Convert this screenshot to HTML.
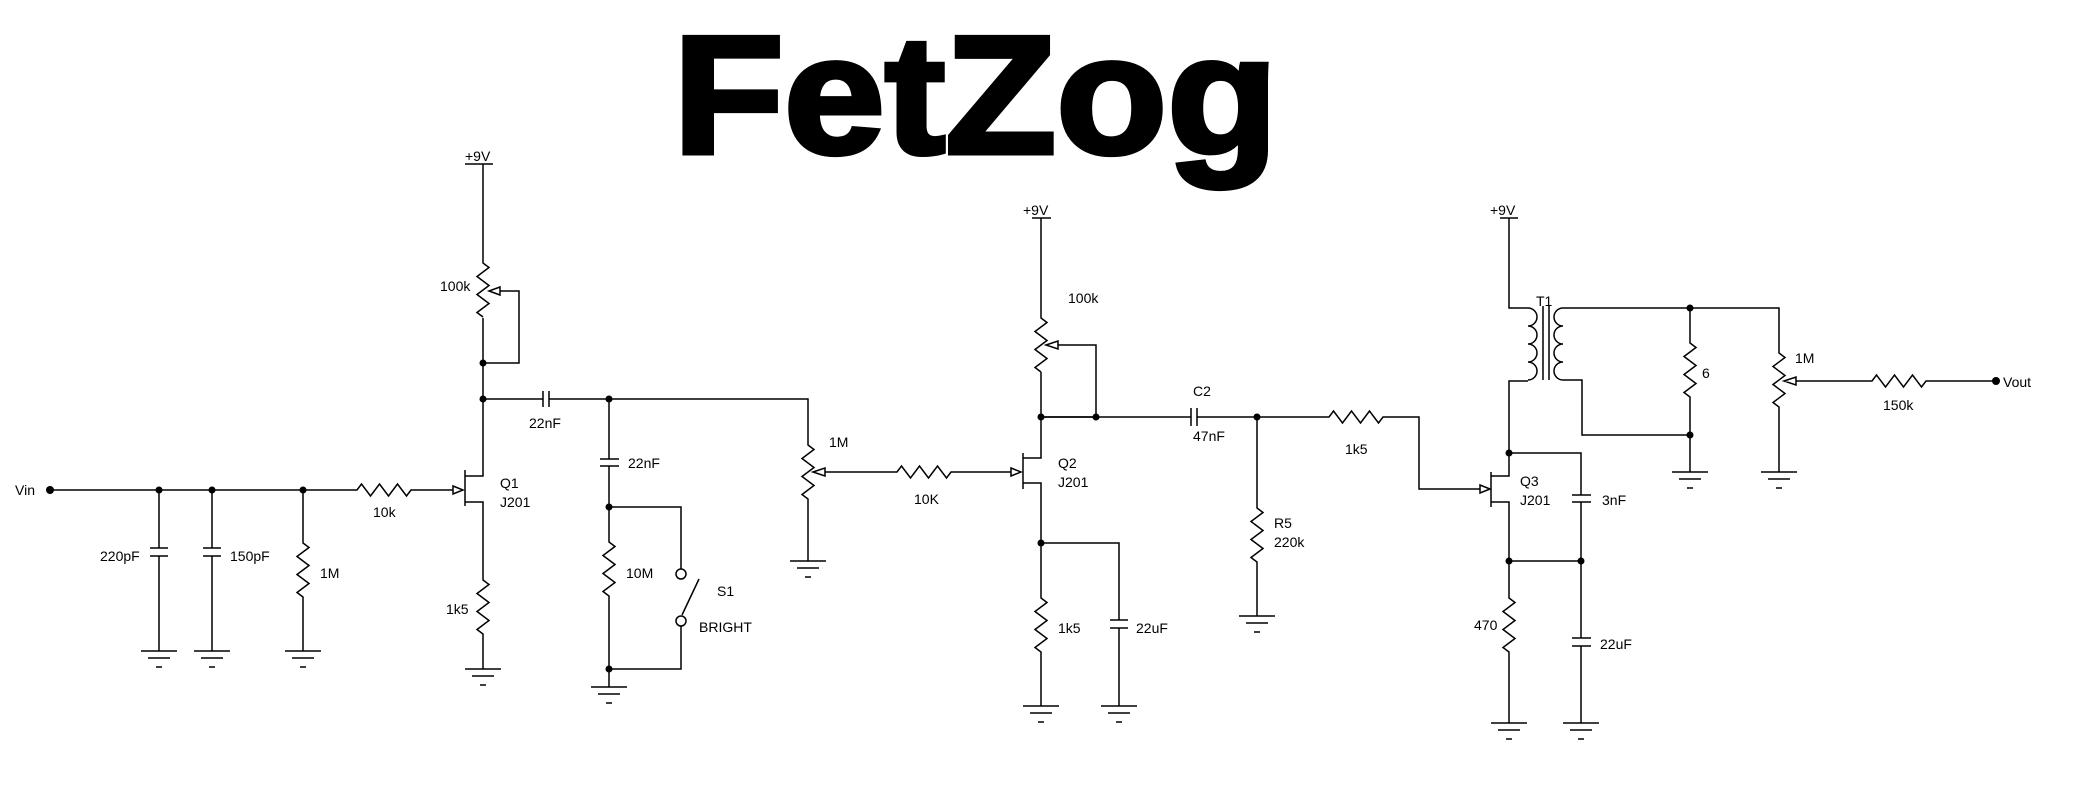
<!DOCTYPE html>
<html><head><meta charset="utf-8"><style>
html,body{margin:0;padding:0;background:#fff;}
svg{display:block;}
text{font-family:"Liberation Sans",sans-serif;font-size:14px;fill:#000;}
</style></head><body>
<svg width="2079" height="789" viewBox="0 0 2079 789" xmlns="http://www.w3.org/2000/svg">
<rect width="2079" height="789" fill="#fff"/>
<text x="673" y="153" style="font-size:168px;font-weight:bold;stroke:#000;stroke-width:5" textLength="605" lengthAdjust="spacingAndGlyphs">FetZog</text>
<g fill="none" stroke="#000" stroke-width="1.5">
<!-- input -->
<path d="M50 490 H357 l4.5 -6 l9 12 l9 -12 l9 12 l9 -12 l9 12 l4.5 -6 H453"/>
<path d="M159 490 V548 M150 548 H168 M150 556 H168 M159 556 V651"/>
<path d="M212 490 V548 M203 548 H221 M203 556 H221 M212 556 V651"/>
<path d="M303 490 V543 l6 4.5 l-12 9 l12 9 l-12 9 l12 9 l-12 9 l6 4.5 V651"/>
<!-- Q1 -->
<path d="M453 486 L463 490 L453 494 Z"/>
<path d="M465 470 V506 M465 476 H483 V318 M483 164 V263 l6 4.5 l-12 9 l12 9 l-12 9 l12 9 l-12 9 l6 4.5"/>
<path d="M489 291 L500 287 L500 295 Z M500 291 H519 V363 H483"/>
<path d="M465 502 H483 V580 l6 4.5 l-12 9 l12 9 l-12 9 l12 9 l-12 9 l6 4.5 V669"/>
<path d="M465 164 H493"/>
<!-- coupling -->
<path d="M483 399 H543 M543 391 V407 M549 391 V407 M549 399 H808 V445 l6 4.5 l-12 9 l12 9 l-12 9 l12 9 l-12 9 l6 4.5 V561"/>
<path d="M813 472 L825 468 L825 476 Z M825 472 H897 l4.5 -6 l9 12 l9 -12 l9 12 l9 -12 l9 12 l4.5 -6 H1011"/>
<path d="M1011 468 L1021 472 L1011 476 Z"/>
<!-- bright -->
<path d="M609 399 V459 M600 459 H619 M600 466 H619 M609 466 V542 l6 4.5 l-12 9 l12 9 l-12 9 l12 9 l-12 9 l6 4.5 V687"/>
<path d="M609 507 H681 V569 M681 626 V669 H609 M682 615 L699 579"/>
<circle cx="681" cy="574" r="5"/><circle cx="681" cy="621" r="5"/>
<!-- Q2 -->
<path d="M1023 453 V489 M1023 458 H1041 V372 M1041 218 V318 l6 4.5 l-12 9 l12 9 l-12 9 l12 9 l-12 9 l6 4.5"/>
<path d="M1032 218 H1051"/>
<path d="M1046 345 L1058 341 L1058 349 Z M1058 345 H1096 V417 H1041"/>
<path d="M1041 417 H1191 M1191 408 V426 M1197 408 V426 M1197 417 H1329 l4.5 -6 l9 12 l9 -12 l9 12 l9 -12 l9 12 l4.5 -6 H1419 V489 H1480"/>
<path d="M1023 483 H1041 V598 l6 4.5 l-12 9 l12 9 l-12 9 l12 9 l-12 9 l6 4.5 V706"/>
<path d="M1041 543 H1119 V620 M1110 620 H1128 M1110 628 H1128 M1119 628 V706"/>
<path d="M1257 417 V508 l6 4.5 l-12 9 l12 9 l-12 9 l12 9 l-12 9 l6 4.5 V616"/>
<!-- Q3 -->
<path d="M1480 485 L1490 489 L1480 493 Z"/>
<path d="M1491 472 V507 M1491 476 H1509 V381 H1528"/>
<path d="M1500 218 H1518 M1509 218 V308 H1528"/>
<path d="M1528 308 a9 9 0 0 1 0 18 a9 9 0 0 1 0 18 a9 9 0 0 1 0 18 a9 9 0 0 1 0 18"/>
<path d="M1543 306 V380 M1549 306 V380"/>
<path d="M1563 308 a9 9 0 0 0 0 18 a9 9 0 0 0 0 18 a9 9 0 0 0 0 18 a9 9 0 0 0 0 18"/>
<path d="M1563 308 H1779 V353 l6 4.5 l-12 9 l12 9 l-12 9 l12 9 l-12 9 l6 4.5 V472"/>
<path d="M1563 380 H1582 V435 H1690"/>
<path d="M1690 308 V343 l6 4.5 l-12 9 l12 9 l-12 9 l12 9 l-12 9 l6 4.5 V472"/>
<path d="M1784 381 L1796 377 L1796 385 Z M1796 381 H1872 l4.5 -6 l9 12 l9 -12 l9 12 l9 -12 l9 12 l4.5 -6 H1996"/>
<path d="M1509 453 H1581 V495 M1572 495 H1591 M1572 502 H1591 M1581 502 V638 M1572 638 H1591 M1572 646 H1591 M1581 646 V723"/>
<path d="M1491 502 H1509 V598 l6 4.5 l-12 9 l12 9 l-12 9 l12 9 l-12 9 l6 4.5 V723 M1509 561 H1581"/>
<!-- grounds -->
<path d="M141 651 H177 M148 658 H170 M156 667 H162"/>
<path d="M194 651 H230 M201 658 H223 M209 667 H215"/>
<path d="M285 651 H321 M292 658 H314 M300 667 H306"/>
<path d="M465 669 H501 M472 676 H494 M480 685 H486"/>
<path d="M591 687 H627 M598 694 H620 M606 703 H612"/>
<path d="M790 561 H826 M797 568 H819 M805 577 H811"/>
<path d="M1023 706 H1059 M1030 713 H1052 M1038 722 H1044"/>
<path d="M1101 706 H1137 M1108 713 H1130 M1116 722 H1122"/>
<path d="M1239 616 H1275 M1246 623 H1268 M1254 632 H1260"/>
<path d="M1491 723 H1527 M1498 730 H1520 M1506 739 H1512"/>
<path d="M1563 723 H1599 M1570 730 H1592 M1578 739 H1584"/>
<path d="M1672 472 H1708 M1679 479 H1701 M1687 488 H1693"/>
<path d="M1761 472 H1797 M1768 479 H1790 M1776 488 H1782"/>
</g>
<g fill="#000">
<circle cx="50" cy="490" r="4"/><circle cx="159" cy="490" r="3.5"/><circle cx="212" cy="490" r="3.5"/><circle cx="303" cy="490" r="3.5"/>
<circle cx="483" cy="363" r="3.5"/><circle cx="483" cy="399" r="3.5"/><circle cx="609" cy="399" r="3.5"/><circle cx="609" cy="507" r="3.5"/><circle cx="609" cy="669" r="3.5"/>
<circle cx="1041" cy="417" r="3.5"/><circle cx="1096" cy="417" r="3.5"/><circle cx="1257" cy="417" r="3.5"/><circle cx="1041" cy="543" r="3.5"/>
<circle cx="1509" cy="453" r="3.5"/><circle cx="1509" cy="561" r="3.5"/><circle cx="1581" cy="561" r="3.5"/>
<circle cx="1690" cy="308" r="3.5"/><circle cx="1690" cy="435" r="3.5"/><circle cx="1996" cy="381" r="4"/>
</g>
<text x="15" y="495">Vin</text>
<text x="100" y="561">220pF</text>
<text x="230" y="561">150pF</text>
<text x="320" y="578">1M</text>
<text x="373" y="517">10k</text>
<text x="500" y="488">Q1</text>
<text x="500" y="507">J201</text>
<text x="446" y="614">1k5</text>
<text x="465" y="161">+9V</text>
<text x="440" y="291">100k</text>
<text x="529" y="428">22nF</text>
<text x="628" y="468">22nF</text>
<text x="626" y="578">10M</text>
<text x="717" y="596">S1</text>
<text x="699" y="632">BRIGHT</text>
<text x="829" y="447">1M</text>
<text x="914" y="504">10K</text>
<text x="1023" y="215">+9V</text>
<text x="1068" y="303">100k</text>
<text x="1058" y="468">Q2</text>
<text x="1058" y="487">J201</text>
<text x="1058" y="633">1k5</text>
<text x="1136" y="633">22uF</text>
<text x="1193" y="396">C2</text>
<text x="1193" y="441">47nF</text>
<text x="1274" y="528">R5</text>
<text x="1274" y="547">220k</text>
<text x="1345" y="454">1k5</text>
<text x="1490" y="215">+9V</text>
<text x="1536" y="306">T1</text>
<text x="1520" y="486">Q3</text>
<text x="1520" y="505">J201</text>
<text x="1602" y="505">3nF</text>
<text x="1474" y="630">470</text>
<text x="1600" y="649">22uF</text>
<text x="1702" y="378">6</text>
<text x="1795" y="363">1M</text>
<text x="1883" y="410">150k</text>
<text x="2003" y="387">Vout</text>
</svg>
</body></html>
